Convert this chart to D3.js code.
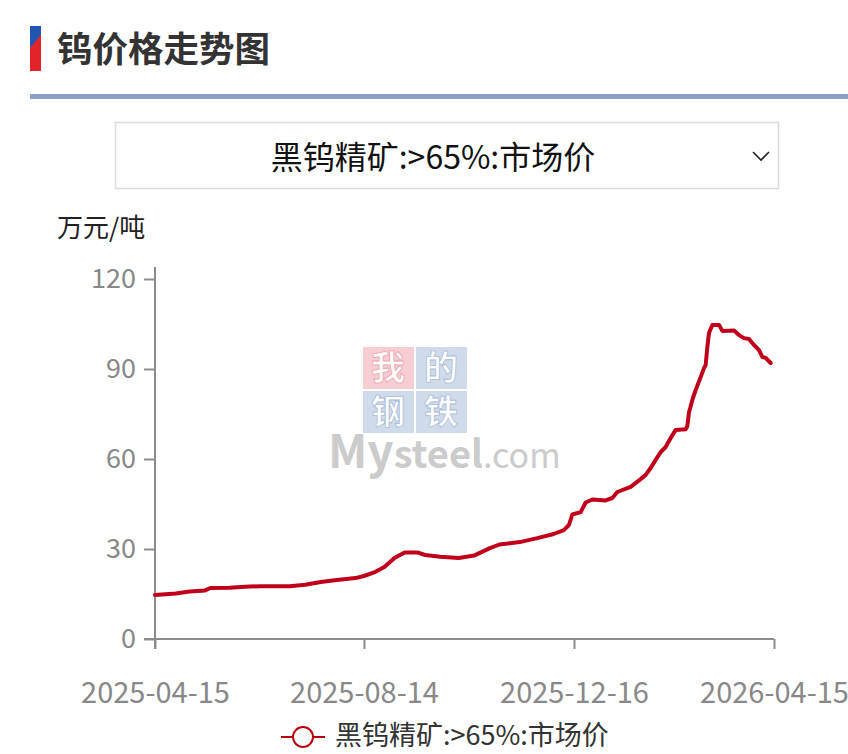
<!DOCTYPE html>
<html>
<head>
<meta charset="utf-8">
<script src="https://cdn.jsdelivr.net/npm/d3@7"></script>
<style>
  body { margin: 0; background: #fff; }
  svg text { font-family: "Noto Sans CJK SC", "Noto Sans", sans-serif; }
</style>
</head>
<body>
<div class="chart-container"></div>
<script>
var width = 848,
    height = 754;

// 黑钨精矿:>65%:市场价, 万元/吨
var dates = [
    "2025-04-15", "2025-04-27", "2025-05-05", "2025-05-14", "2025-05-17", "2025-05-28",
    "2025-06-06", "2025-06-15", "2025-07-02", "2025-07-11", "2025-07-20", "2025-07-28",
    "2025-08-09", "2025-08-14", "2025-08-20", "2025-08-26", "2025-09-01", "2025-09-07",
    "2025-09-15", "2025-09-19", "2025-09-28", "2025-10-09", "2025-10-18", "2025-10-27",
    "2025-11-02", "2025-11-14", "2025-11-25", "2025-12-04", "2025-12-10", "2025-12-13",
    "2025-12-15", "2025-12-20", "2025-12-23", "2025-12-27", "2026-01-04", "2026-01-08",
    "2026-01-11", "2026-01-19", "2026-01-25", "2026-01-28", "2026-01-31", "2026-02-03",
    "2026-02-06", "2026-02-09", "2026-02-12", "2026-02-15", "2026-02-21", "2026-02-22",
    "2026-02-23", "2026-02-25", "2026-02-27", "2026-03-02", "2026-03-04", "2026-03-05",
    "2026-03-06", "2026-03-07", "2026-03-09", "2026-03-13", "2026-03-15", "2026-03-22",
    "2026-03-25", "2026-03-28", "2026-03-31", "2026-04-03", "2026-04-06", "2026-04-08",
    "2026-04-10", "2026-04-13"
];
var prices = [
    14.7, 15.2, 15.8, 16.2, 17.0, 17.1,
    17.4, 17.6, 17.6, 18.1, 19.0, 19.6,
    20.3, 21.0, 22.2, 24.0, 27.0, 28.8,
    28.8, 28.0, 27.4, 27.0, 27.8, 30.2,
    31.5, 32.3, 33.7, 35.0, 36.3, 38.0,
    41.5, 42.3, 45.5, 46.5, 46.2, 47.0,
    49.0, 50.7, 53.3, 54.7, 57.0, 59.7,
    62.3, 64.0, 67.0, 69.7, 69.9, 71.0,
    75.5, 79.7, 83.0, 87.3, 90.3, 91.3,
    97.3, 102.0, 104.7, 104.7, 102.7, 102.8,
    101.3, 100.3, 100.0, 98.0, 96.3, 94.0,
    93.7, 92.0
];
var xTickLabels = ["2025-04-15", "2025-08-14", "2025-12-16", "2026-04-15"];
var yTicks = [0, 30, 60, 90, 120];
var seriesName = "黑钨精矿:>65%:市场价";
var title = "钨价格走势图";
var unit = "万元/吨";

var parseDate = d3.timeParse("%Y-%m-%d");
var data = dates.map(function(d, i) { return { date: parseDate(d), value: prices[i] }; });

var svg = d3.select(".chart-container").append("svg")
    .attr("width", width)
    .attr("height", height);

// header
var grad = svg.append("defs").append("linearGradient")
    .attr("id", "flag").attr("x1", 0).attr("y1", 0).attr("x2", 0.3).attr("y2", 1);
grad.append("stop").attr("offset", "45%").attr("stop-color", "#1f56b3");
grad.append("stop").attr("offset", "45%").attr("stop-color", "#e2242a");
svg.append("rect").attr("x", 30).attr("y", 26).attr("width", 11).attr("height", 45).attr("fill", "url(#flag)");

svg.append("text")
    .attr("x", 57).attr("y", 62)
    .attr("font-size", 35.5).attr("font-weight", "bold").attr("fill", "#333")
    .text(title);

svg.append("rect").attr("x", 30).attr("y", 94).attr("width", width - 30).attr("height", 5).attr("fill", "#8aa0c6");

// dropdown
svg.append("rect")
    .attr("x", 115.5).attr("y", 122.5).attr("width", 663).attr("height", 66)
    .attr("fill", "#fff").attr("stroke", "#dcdcdc").attr("stroke-width", 1.5);
svg.append("text")
    .attr("x", 433).attr("y", 158).attr("dy", "0.35em")
    .attr("text-anchor", "middle").attr("font-size", 32).attr("fill", "#111")
    .text(seriesName);
svg.append("path")
    .attr("d", "M753,152 L761,160 L769,152")
    .attr("fill", "none").attr("stroke", "#222").attr("stroke-width", 1.6);

// unit
svg.append("text")
    .attr("x", 57).attr("y", 228).attr("dy", "0.35em")
    .attr("font-size", 26).attr("fill", "#222")
    .text(unit);

// scales
var x = d3.scaleTime()
    .domain(xTickLabels.map(parseDate))
    .range([155, 364, 574, 774]);
var y = d3.scaleLinear()
    .domain([0, 120])
    .range([639, 279]);

// watermark
var wm = svg.append("g").attr("class", "watermark");
var wmCells = [
    { ch: "我", c: "#f6cdd2", col: 0, row: 0 },
    { ch: "的", c: "#cfdaea", col: 1, row: 0 },
    { ch: "钢", c: "#cfdaea", col: 0, row: 1 },
    { ch: "铁", c: "#cfdaea", col: 1, row: 1 }
];
wm.selectAll(".cell").data(wmCells).enter().append("rect")
    .attr("x", function(d) { return 363 + d.col * 53; })
    .attr("y", function(d) { return 347 + d.row * 44; })
    .attr("width", 51).attr("height", 42)
    .attr("fill", function(d) { return d.c; });
wm.selectAll(".ch").data(wmCells).enter().append("text")
    .attr("x", function(d) { return 388 + d.col * 53; })
    .attr("y", function(d) { return 368 + d.row * 44; })
    .attr("dy", "0.36em").attr("text-anchor", "middle")
    .attr("font-size", 34).attr("font-weight", "bold")
    .attr("fill", "#fff")
    .attr("stroke", function(d) { return d.row === 0 && d.col === 0 ? "#eea2ab" : "#a9bcd8"; })
    .attr("stroke-width", 0.8)
    .text(function(d) { return d.ch; });
var wmText = wm.append("text").attr("x", 328).attr("y", 468).attr("fill", "#cbcbcb")
    .attr("font-family", "Liberation Sans, Arial, sans-serif").attr("font-weight", "bold");
wmText.append("tspan").attr("font-size", 46).text("My");
wmText.append("tspan").attr("font-size", 38).text("steel");
wmText.append("tspan").attr("font-size", 34).attr("font-weight", "normal").text(".com");

// axes
var yAxis = svg.append("g")
    .attr("class", "axis axis--y")
    .attr("transform", "translate(155,0)")
    .call(d3.axisLeft(y).tickValues(yTicks).tickSize(11).tickPadding(8));

var xAxis = svg.append("g")
    .attr("class", "axis axis--x")
    .attr("transform", "translate(0,639)")
    .call(d3.axisBottom(x).tickValues(xTickLabels.map(parseDate)).tickFormat(d3.timeFormat("%Y-%m-%d")).tickSize(10).tickPadding(33));

svg.selectAll(".axis .domain").remove();
svg.append("line").attr("x1", 155).attr("x2", 155).attr("y1", 267).attr("y2", 649)
    .attr("stroke", "#8c8c8c").attr("stroke-width", 2);
svg.append("line").attr("x1", 144).attr("x2", 774).attr("y1", 639).attr("y2", 639)
    .attr("stroke", "#8c8c8c").attr("stroke-width", 2);
svg.selectAll(".axis .tick line").attr("stroke", "#8c8c8c").attr("stroke-width", 2);
yAxis.selectAll("text").attr("font-size", 27).attr("fill", "#888").attr("font-family", null);
xAxis.selectAll("text").attr("font-size", 29).attr("fill", "#888").attr("font-family", null);

// series line
var line = d3.line()
    .x(function(d) { return x(d.date); })
    .y(function(d) { return y(d.value); });

svg.append("path")
    .datum(data)
    .attr("class", "price-line")
    .attr("fill", "none")
    .attr("stroke", "#c0001a")
    .attr("stroke-width", 4)
    .attr("stroke-linejoin", "round")
    .attr("stroke-linecap", "round")
    .attr("d", line);

// legend
var legend = svg.append("g").attr("class", "legend");
legend.append("line").attr("x1", 281).attr("x2", 325).attr("y1", 737).attr("y2", 737)
    .attr("stroke", "#b8000f").attr("stroke-width", 2);
legend.append("circle").attr("cx", 303).attr("cy", 737).attr("r", 10)
    .attr("fill", "#fff").attr("stroke", "#b8000f").attr("stroke-width", 2);
legend.append("text").attr("x", 335).attr("y", 736).attr("dy", "0.35em")
    .attr("font-size", 27).attr("fill", "#333")
    .text(seriesName);
</script>
</body>
</html>
